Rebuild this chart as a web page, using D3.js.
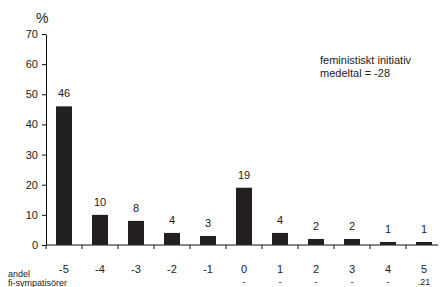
<!DOCTYPE html>
<html>
<head>
<meta charset="utf-8">
<script src="https://cdn.jsdelivr.net/npm/d3@7"></script>
<style>
body { margin: 0; background: #fff; }
text { font-family: "Liberation Sans", Arial, sans-serif; fill: #222; }
</style>
</head>
<body>
<script>
const categories = ["-5", "-4", "-3", "-2", "-1", "0", "1", "2", "3", "4", "5"];
const values = [46, 10, 8, 4, 3, 19, 4, 2, 2, 1, 1];
const shares = ["", "", "", "", "", "-", "-", "-", "-", "-", ".21"];
const yTicks = [0, 10, 20, 30, 40, 50, 60, 70];

const width = 442, height = 287;
const svg = d3.select("body").append("svg")
	.attr("width", width)
	.attr("height", height);

const x = d3.scaleBand().domain(categories).range([46, 442]).paddingInner(0).paddingOuter(0);
const y = d3.scaleLinear().domain([0, 70]).range([245, 34]);
const barW = 16;

// y axis
const yAxis = svg.append("g").attr("transform", "translate(46,0)")
	.call(d3.axisLeft(y).tickValues(yTicks).tickSize(4).tickSizeOuter(0).tickPadding(4));
yAxis.select(".domain").attr("stroke", "#111");
yAxis.selectAll(".tick line").attr("stroke", "#111");
yAxis.selectAll(".tick text").attr("font-size", 11).style("font-family", "Liberation Sans, Arial, sans-serif").attr("fill", "#222");

// x axis line + ticks at band starts
svg.append("line")
	.attr("x1", 46).attr("x2", 438)
	.attr("y1", y(0)).attr("y2", y(0))
	.attr("stroke", "#111");
svg.selectAll(".xtick").data(categories).enter().append("line")
	.attr("x1", d => x(d)).attr("x2", d => x(d))
	.attr("y1", y(0)).attr("y2", y(0) + 4)
	.attr("stroke", "#111");

// bars
svg.selectAll(".bar").data(values).enter().append("rect")
	.attr("x", (d, i) => x(categories[i]) + (x.bandwidth() - barW) / 2)
	.attr("y", d => y(d))
	.attr("width", barW)
	.attr("height", d => y(0) - y(d))
	.attr("fill", "#231f20");

// value labels
svg.selectAll(".val").data(values).enter().append("text")
	.attr("x", (d, i) => x(categories[i]) + x.bandwidth() / 2)
	.attr("y", d => y(d) - 9)
	.attr("text-anchor", "middle")
	.attr("font-size", 11)
	.text(d => d);

// category labels
svg.selectAll(".cat").data(categories).enter().append("text")
	.attr("x", d => x(d) + x.bandwidth() / 2)
	.attr("y", 273)
	.attr("text-anchor", "middle")
	.attr("font-size", 11)
	.text(d => d);

svg.selectAll(".share").data(shares).enter().append("text")
	.attr("x", (d, i) => x(categories[i]) + x.bandwidth() / 2)
	.attr("y", 285)
	.attr("text-anchor", "middle")
	.attr("font-size", 9)
	.text(d => d);

svg.append("text").attr("x", 8).attr("y", 277).attr("font-size", 9).text("andel");
svg.append("text").attr("x", 8).attr("y", 286).attr("font-size", 9).text("fi-sympatisörer");

svg.append("text").attr("x", 36).attr("y", 23).attr("font-size", 14).text("%");

svg.append("text").attr("x", 320).attr("y", 64).attr("font-size", 11).text("feministiskt initiativ");
svg.append("text").attr("x", 320).attr("y", 77).attr("font-size", 11).text("medeltal = -28");
</script>
</body>
</html>
